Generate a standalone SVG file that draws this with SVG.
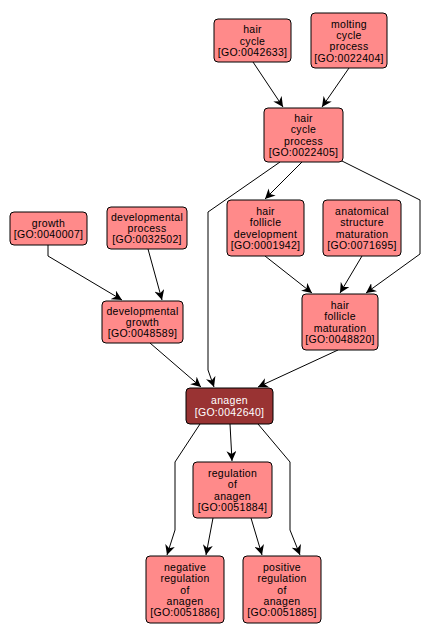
<svg xmlns="http://www.w3.org/2000/svg" width="431" height="639" viewBox="0 0 431 639">
<style>
.n rect{fill:#ff8a8a;stroke:#000;stroke-width:1}
.n text{font-family:"Liberation Sans",Arial,sans-serif;font-size:10.5px;fill:#000;text-anchor:middle;dominant-baseline:central;letter-spacing:0.3px}
#anagen rect{fill:#993333}
#anagen text{fill:#fff}
.e path{fill:none;stroke:#000;stroke-width:1;marker-end:url(#ah)}
</style>
<defs>
<marker id="ah" markerUnits="userSpaceOnUse" markerWidth="11" markerHeight="10" refX="10" refY="5" orient="auto" viewBox="0 0 11 10">
<path d="M0,0 L10,5 L0,10 L3,5 z" fill="#000"/>
</marker>
</defs>
<rect width="431" height="639" fill="#fff"/>
<g class="e">
<path d="M253,62 L283,107"/>
<path d="M349,68 L322,107"/>
<path d="M302,162 L265,199"/>
<path d="M280,162 L208,212 L208,370 L214,387"/>
<path d="M340,160 L420,200 L420,254 L366,293"/>
<path d="M265,256 L312,293"/>
<path d="M362,256 L340,293"/>
<path d="M48,245 L48,256 L122,300"/>
<path d="M148,249 L162,300"/>
<path d="M150,343 L201,387"/>
<path d="M338,350 L258,387"/>
<path d="M230,424 L232,461"/>
<path d="M200,424 L175,462 L175,530 L167,555"/>
<path d="M258,424 L290,462 L290,530 L300,555"/>
<path d="M213,518 L206,555"/>
<path d="M251,518 L262,555"/>
</g>
<g id="hair_cycle" class="n"><rect x="214" y="19" width="77" height="43" rx="4"/><text x="252.5" y="29.2">hair<tspan x="252.5" dy="11.3">cycle</tspan><tspan x="252.5" dy="11.3">[GO:0042633]</tspan></text></g>
<g id="molting_cycle_process" class="n"><rect x="311" y="13" width="76" height="55" rx="4"/><text x="349" y="23.6">molting<tspan x="349" dy="11.3">cycle</tspan><tspan x="349" dy="11.3">process</tspan><tspan x="349" dy="11.3">[GO:0022404]</tspan></text></g>
<g id="hair_cycle_process" class="n"><rect x="264" y="108" width="79" height="54" rx="4"/><text x="303.5" y="118">hair<tspan x="303.5" dy="11.3">cycle</tspan><tspan x="303.5" dy="11.3">process</tspan><tspan x="303.5" dy="11.3">[GO:0022405]</tspan></text></g>
<g id="growth" class="n"><rect x="10" y="212" width="77" height="33" rx="4"/><text x="48.5" y="222.8">growth<tspan x="48.5" dy="11.3">[GO:0040007]</tspan></text></g>
<g id="developmental_process" class="n"><rect x="107" y="207" width="80" height="42" rx="4"/><text x="147" y="216.7">developmental<tspan x="147" dy="11.3">process</tspan><tspan x="147" dy="11.3">[GO:0032502]</tspan></text></g>
<g id="developmental_growth" class="n"><rect x="102" y="301" width="81" height="42" rx="4"/><text x="142.5" y="310.7">developmental<tspan x="142.5" dy="11.3">growth</tspan><tspan x="142.5" dy="11.3">[GO:0048589]</tspan></text></g>
<g id="hair_follicle_development" class="n"><rect x="227" y="200" width="77" height="56" rx="4"/><text x="265.5" y="211">hair<tspan x="265.5" dy="11.3">follicle</tspan><tspan x="265.5" dy="11.3">development</tspan><tspan x="265.5" dy="11.3">[GO:0001942]</tspan></text></g>
<g id="anatomical_structure_maturation" class="n"><rect x="323" y="200" width="78" height="56" rx="4"/><text x="362" y="211">anatomical<tspan x="362" dy="11.3">structure</tspan><tspan x="362" dy="11.3">maturation</tspan><tspan x="362" dy="11.3">[GO:0071695]</tspan></text></g>
<g id="hair_follicle_maturation" class="n"><rect x="302" y="294" width="76" height="56" rx="4"/><text x="340" y="305">hair<tspan x="340" dy="11.3">follicle</tspan><tspan x="340" dy="11.3">maturation</tspan><tspan x="340" dy="11.3">[GO:0048820]</tspan></text></g>
<g id="anagen" class="n"><rect x="186" y="388" width="87" height="36" rx="4"/><text x="229.5" y="400.3">anagen<tspan x="229.5" dy="11.3">[GO:0042640]</tspan></text></g>
<g id="regulation_of_anagen" class="n"><rect x="193" y="462" width="79" height="56" rx="4"/><text x="232.5" y="473">regulation<tspan x="232.5" dy="11.3">of</tspan><tspan x="232.5" dy="11.3">anagen</tspan><tspan x="232.5" dy="11.3">[GO:0051884]</tspan></text></g>
<g id="negative_regulation_of_anagen" class="n"><rect x="146" y="556" width="78" height="67" rx="4"/><text x="185" y="566.9">negative<tspan x="185" dy="11.3">regulation</tspan><tspan x="185" dy="11.3">of</tspan><tspan x="185" dy="11.3">anagen</tspan><tspan x="185" dy="11.3">[GO:0051886]</tspan></text></g>
<g id="positive_regulation_of_anagen" class="n"><rect x="243" y="556" width="78" height="67" rx="4"/><text x="282" y="566.9">positive<tspan x="282" dy="11.3">regulation</tspan><tspan x="282" dy="11.3">of</tspan><tspan x="282" dy="11.3">anagen</tspan><tspan x="282" dy="11.3">[GO:0051885]</tspan></text></g>
</svg>
